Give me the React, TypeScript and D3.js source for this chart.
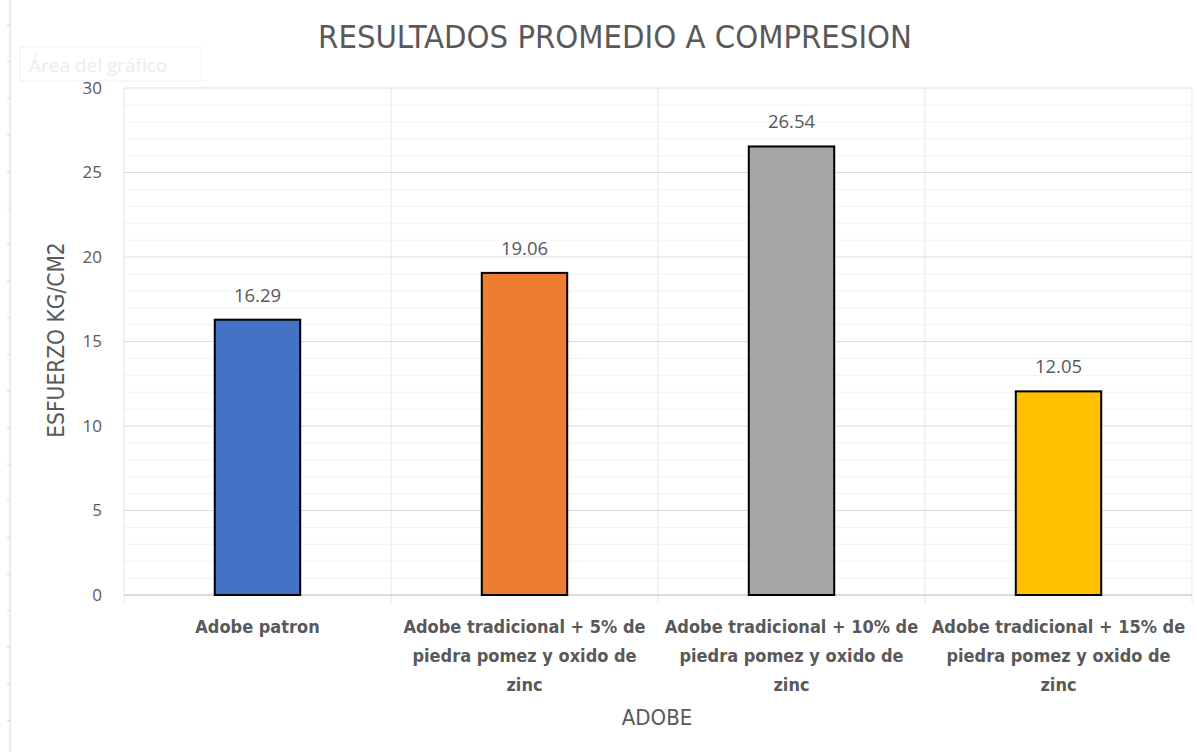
import React, { useEffect, useRef } from "react";
import * as d3 from "d3";

const categories = [
  "Adobe patron",
  "Adobe tradicional + 5% de piedra pomez y oxido de zinc",
  "Adobe tradicional + 10% de piedra pomez y oxido de zinc",
  "Adobe tradicional + 15% de piedra pomez y oxido de zinc",
];
const values = [16.29, 19.06, 26.54, 12.05];
const labels = ["16.29", "19.06", "26.54", "12.05"];
const colors = ["#4472C4", "#ED7D31", "#A5A5A5", "#FFC000"];
const yTicks = [0, 5, 10, 15, 20, 25, 30];

const W = 1197;
const H = 752;
const font = "'Liberation Sans Narrow', 'DejaVu Sans Condensed', sans-serif";

const wrap = (text: string, maxW: number, f: string) => {
  const ctx = document.createElement("canvas").getContext("2d")!;
  ctx.font = f;
  const words = text.split(" ");
  const lines: string[] = [];
  let cur = "";
  words.forEach(w => {
    const t = cur ? cur + " " + w : w;
    if (ctx.measureText(t).width > maxW && cur) {
      lines.push(cur);
      cur = w;
    } else cur = t;
  });
  if (cur) lines.push(cur);
  return lines;
};

const App = () => {
  const ref = useRef<SVGSVGElement>(null);

  useEffect(() => {
    const svg = d3.select(ref.current);
    svg.selectAll("*").remove();

    const x = d3.scaleBand<string>().domain(categories).range([124, 1192]).padding(0);
    const y = d3.scaleLinear().domain([0, 30]).range([595, 88]);

    // faint ruler line on the left
    svg.append("line").attr("x1", 10).attr("x2", 10).attr("y1", 0).attr("y2", H)
      .attr("stroke", "#e3e3e3").attr("stroke-width", 1.5);
    svg.selectAll("line.rt").data(d3.range(25, H, 36.6)).enter().append("line")
      .attr("class", "rt").attr("x1", 7).attr("x2", 10)
      .attr("y1", d => d).attr("y2", d => d).attr("stroke", "#d6d6d6");

    // "Área del gráfico" tooltip
    svg.append("rect").attr("x", 20).attr("y", 47).attr("width", 181).attr("height", 34)
      .attr("fill", "#fff").attr("stroke", "#f0f0f0");
    svg.append("text").attr("x", 29).attr("y", 72).text("Área del gráfico")
      .attr("font-family", "'Open Sans', sans-serif").attr("font-size", 19).attr("fill", "#ececec");

    // minor gridlines
    svg.selectAll("line.minor").data(d3.range(1, 30).filter(d => d % 5 !== 0)).enter().append("line")
      .attr("class", "minor").attr("x1", 124).attr("x2", 1192)
      .attr("y1", d => y(d)).attr("y2", d => y(d)).attr("stroke", "#f2f2f2").attr("stroke-width", 1);
    // vertical category gridlines
    const bounds = categories.map(c => x(c)!).concat([x.range()[1]]);
    svg.selectAll("line.vg").data(bounds).enter().append("line")
      .attr("class", "vg").attr("x1", d => d).attr("x2", d => d)
      .attr("y1", y(30)).attr("y2", y(0) + 8).attr("stroke", "#e6e6e6").attr("stroke-width", 1);
    // major gridlines
    svg.selectAll("line.major").data(yTicks).enter().append("line")
      .attr("class", "major").attr("x1", 124).attr("x2", 1192)
      .attr("y1", d => y(d)).attr("y2", d => y(d))
      .attr("stroke", d => (d === 0 ? "#d0d0d0" : "#dcdcdc")).attr("stroke-width", d => (d === 0 ? 1.5 : 1));

    // y tick labels
    svg.selectAll("text.yt").data(yTicks).enter().append("text")
      .attr("class", "yt").attr("x", 102).attr("y", d => y(d)).attr("dy", "0.35em")
      .attr("text-anchor", "end").text(d => d)
      .attr("font-family", "'Open Sans', sans-serif").attr("font-size", 17).attr("fill", "#595959");

    // bars
    const bw = x.bandwidth() * 0.32;
    svg.selectAll("rect.bar").data(values).enter().append("rect")
      .attr("class", "bar")
      .attr("x", (d, i) => x(categories[i])! + x.bandwidth() / 2 - bw / 2)
      .attr("y", d => y(d)).attr("width", bw).attr("height", d => y(0) - y(d))
      .attr("fill", (d, i) => colors[i]).attr("stroke", "#000").attr("stroke-width", 2);

    // data labels
    svg.selectAll("text.dl").data(values).enter().append("text")
      .attr("class", "dl")
      .attr("x", (d, i) => x(categories[i])! + x.bandwidth() / 2)
      .attr("y", d => y(d) - 18).attr("text-anchor", "middle")
      .text((d, i) => labels[i])
      .attr("font-family", "'Open Sans', sans-serif").attr("font-size", 18.5).attr("fill", "#595959");

    // category labels
    const catFont = `bold 18px ${font}`;
    categories.forEach(c => {
      const lines = wrap(c, x.bandwidth() - 4, catFont);
      const t = svg.append("text").attr("text-anchor", "middle")
        .attr("font-family", font).attr("font-weight", "bold").attr("font-size", 18).attr("fill", "#595959");
      lines.forEach((l, j) => {
        t.append("tspan").attr("x", x(c)! + x.bandwidth() / 2).attr("y", 633 + j * 29).text(l);
      });
    });

    // axis titles
    svg.append("text").attr("x", 657).attr("y", 725).attr("text-anchor", "middle").text("ADOBE")
      .attr("font-family", font).attr("font-size", 22).attr("fill", "#595959");
    svg.append("text").attr("transform", "translate(64,340) rotate(-90)").attr("text-anchor", "middle")
      .text("ESFUERZO KG/CM2").attr("font-family", font).attr("font-size", 22.5).attr("fill", "#595959");

    // title
    svg.append("text").attr("x", 615).attr("y", 48).attr("text-anchor", "middle")
      .text("RESULTADOS PROMEDIO A COMPRESION")
      .attr("font-family", font).attr("font-size", 32.5).attr("fill", "#595959");
  }, []);

  return (
    <svg ref={ref} width={W} height={H}
      style={{ position: "absolute", left: 0, top: 0, background: "#fff" }} />
  );
};

export default App;
